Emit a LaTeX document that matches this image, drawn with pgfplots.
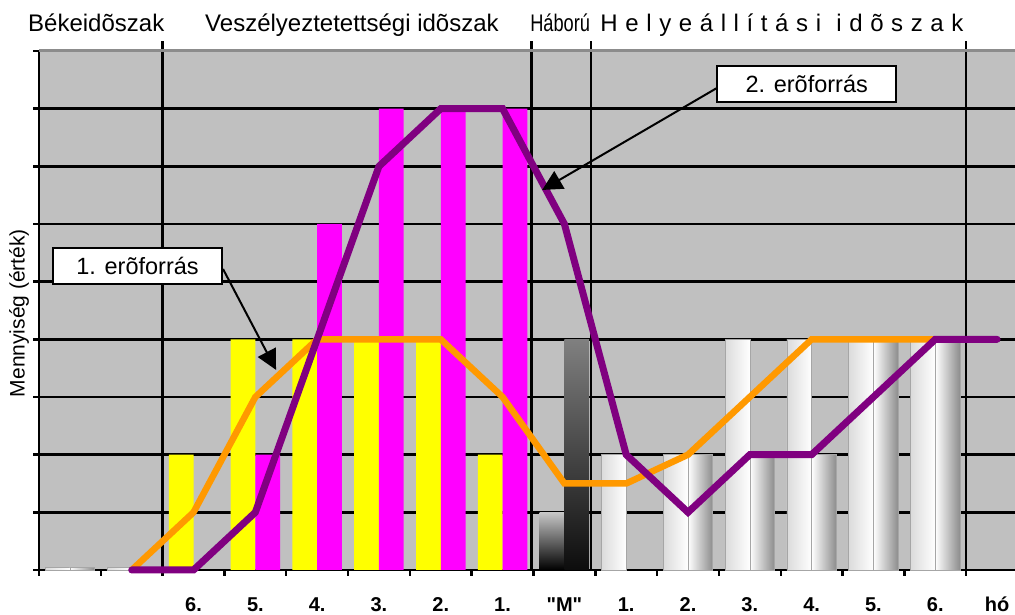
\documentclass[border=0pt]{standalone}
\usepackage{fontspec}
\setmainfont{Liberation Sans}
\usepackage{pgfplots}
\pgfplotsset{compat=1.18}
\usetikzlibrary{arrows.meta}

\definecolor{plotbg}{HTML}{C0C0C0}
\definecolor{sarga}{HTML}{FFFF00}
\definecolor{lila}{HTML}{FF00FF}
\definecolor{narancs}{HTML}{FF9900}
\definecolor{bibor}{HTML}{800080}

\pgfplotsset{
  oszlop/.style={ybar, bar width=0.4, bar shift=0pt},
  henger bal/.style={oszlop, draw=black!35, line width=0.6pt, left color=black!14, right color=white},
  henger jobb/.style={oszlop, draw=black!35, line width=0.6pt, left color=white, right color=black!45},
}

\begin{document}
\begin{tikzpicture}
\useasboundingbox (0,0) rectangle (1015pt,615pt);
\begin{axis}[
  at={(39pt,45pt)}, anchor=south west,
  scale only axis, width=976pt, height=519pt,
  xmin=0, xmax=15.79, ymin=0, ymax=9,
  clip=false,
  axis x line*=bottom, axis y line*=left,
  axis line style={line width=2.6pt},
  axis background/.style={fill=plotbg},
  xtick={0,...,15}, xticklabels={},
  ytick={0,...,9}, yticklabels={},
  tick align=outside, major tick length=6pt,
  every tick/.style={black, line width=2.4pt},
  ymajorgrids=true,
  major grid style={black, line width=2.8pt},
  extra x ticks={2.5,3.5,4.5,5.5,6.5,7.5,8.5,9.5,10.5,11.5,12.5,13.5,14.5,15.5},
  extra x tick labels={\textbf{6.},\textbf{5.},\textbf{4.},\textbf{3.},\textbf{2.},\textbf{1.},
    \textbf{\textquotedbl M\textquotedbl},\textbf{1.},\textbf{2.},\textbf{3.},\textbf{4.},
    \textbf{5.},\textbf{6.},\textbf{hó}},
  extra x tick style={major tick length=0pt, grid=none,
    tick label style={anchor=base, yshift=-42pt, font=\fontsize{20}{22}\selectfont}},
  ylabel={Mennyiség (érték)},
  every axis y label/.style={at={(axis description cs:-0.0205,0.495)}, rotate=90,
    anchor=center, font=\fontsize{21}{24}\selectfont},
]
% veszélyeztetettségi időszak: 1. és 2. erőforrás oszlopai
\addplot[oszlop, fill=sarga, draw=none]
  coordinates {(2.3,2) (3.3,4) (4.3,4) (5.3,4) (6.3,4) (7.3,2)};
\addplot[oszlop, fill=lila, draw=none]
  coordinates {(3.7,2) (4.7,6) (5.7,8) (6.7,8) (7.7,8)};
% "M" nap
\addplot[oszlop, draw=none, top color=black!22, bottom color=black] coordinates {(8.3,1)};
\addplot[oszlop, draw=none, top color=black!50, bottom color=black!95] coordinates {(8.7,4)};
% békeidőszak és helyreállítás (egyenként, hogy mindegyik saját árnyalást kapjon)
\addplot[henger bal] coordinates {(0.3,0.05)};
\addplot[henger jobb] coordinates {(0.7,0.05)};
\addplot[henger bal] coordinates {(1.3,0.05)};
\addplot[henger bal] coordinates {(9.3,2)};
\addplot[henger bal] coordinates {(10.3,2)};
\addplot[henger jobb] coordinates {(10.7,2)};
\addplot[henger bal] coordinates {(11.3,4)};
\addplot[henger jobb] coordinates {(11.7,2)};
\addplot[henger bal] coordinates {(12.3,4)};
\addplot[henger jobb] coordinates {(12.7,2)};
\addplot[henger bal] coordinates {(13.3,4)};
\addplot[henger jobb] coordinates {(13.7,4)};
\addplot[henger bal] coordinates {(14.3,4)};
\addplot[henger jobb] coordinates {(14.7,4)};

% időszakhatárok
\draw[line width=2.6pt] (axis cs:2,0) -- (axis cs:2,9.17);
\draw[line width=2.6pt] (axis cs:7.97,0) -- (axis cs:7.97,9.17);
\draw[line width=2.6pt] (axis cs:8.93,0) -- (axis cs:8.93,9.17);
\draw[line width=2.6pt] (axis cs:15,0) -- (axis cs:15,9.17);
\draw[black!45, line width=3pt] (rel axis cs:0,1) -- (rel axis cs:1,1);

% görbék
\addplot[narancs, line width=6.5pt, no markers]
  coordinates {(1.5,0) (2.5,1) (3.5,3) (4.5,4) (5.5,4) (6.5,4) (7.5,3) (8.5,1.5)
               (9.5,1.5) (10.5,2) (11.5,3) (12.5,4) (13.5,4) (14.5,4) (15.5,4)};
\addplot[bibor, line width=7pt, no markers, line cap=round]
  coordinates {(1.5,0) (2.5,0) (3.5,1) (4.5,4) (5.5,7) (6.5,8) (7.5,8) (8.5,6)
               (9.5,2) (10.5,1) (11.5,2) (12.5,2) (13.5,3) (14.5,4) (15.5,4)};

% időszakok feliratai
\begin{scope}[every node/.style={anchor=base west, inner sep=0pt, font=\fontsize{24}{28}\selectfont}]
\node at (axis cs:-0.178,9.34) {Békeidõszak};
\node at (axis cs:2.686,9.34) {Veszélyeztetettségi idõszak};
\node at (axis cs:7.945,9.34) {\scalebox{0.76}[1]{Háború}};
\node at (axis cs:9.08,9.34) {\makebox[363pt][s]{H e l y e á l l í t á s i \ i d õ s z a k}};
\end{scope}

% feliratok
\node[draw=black, line width=2pt, fill=white, minimum width=179pt, minimum height=36pt,
  inner sep=0pt, font=\fontsize{23.5}{26}\selectfont] at (axis cs:12.42,8.43) {2. erõforrás};
\draw[line width=2pt, -{Triangle[length=20pt,width=20pt]}]
  (axis cs:10.97,8.36) -- (axis cs:8.14,6.59);
\node[draw=black, line width=2pt, fill=white, minimum width=169pt, minimum height=36pt,
  inner sep=0pt, font=\fontsize{23.5}{26}\selectfont] at (axis cs:1.594,5.27) {1. erõforrás};
\draw[line width=2pt, -{Triangle[length=20pt,width=20pt]}]
  (axis cs:2.977,5.22) -- (axis cs:3.835,3.47);
\end{axis}
\end{tikzpicture}
\end{document}
